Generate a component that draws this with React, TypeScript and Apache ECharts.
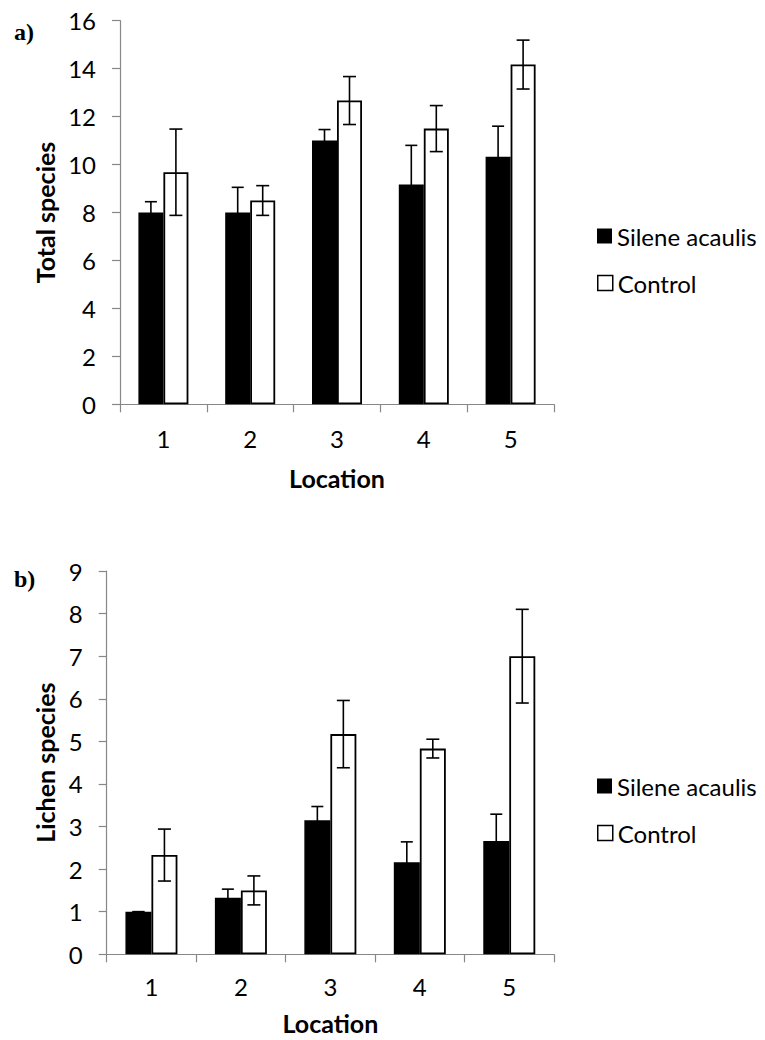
import React, { useEffect, useRef } from "react";
import * as echarts from "echarts";

const locations = ["1", "2", "3", "4", "5"];

// a) Total species
const totalSilene = [8.0, 8.0, 11.0, 9.17, 10.33];
const totalSileneErr = [0.45, 1.05, 0.46, 1.63, 1.27];
const totalControl = [9.68, 8.5, 12.67, 11.5, 14.17];
const totalControlErr = [1.8, 0.62, 1.0, 0.96, 1.02];

// b) Lichen species
const lichenSilene = [1.0, 1.33, 3.15, 2.16, 2.66];
const lichenSileneErr = [0.0, 0.2, 0.32, 0.48, 0.63];
const lichenControl = [2.33, 1.5, 5.17, 4.83, 7.0];
const lichenControlErr = [0.61, 0.34, 0.79, 0.22, 1.1];

const FONT = "Lato";
const AXIS_COLOR = "#878787";

function errorSeries(values: number[], errs: number[], gridIdx: number, offset: number, cap: number) {
  return {
    type: "custom",
    xAxisIndex: gridIdx,
    yAxisIndex: gridIdx,
    z: 10,
    silent: true,
    data: values.map((v, i) => [i, v, errs[i]]),
    renderItem: (params: any, api: any) => {
      const i = api.value(0);
      const v = api.value(1);
      const e = api.value(2);
      const hi = api.coord([i, v + e]);
      const lo = api.coord([i, v - e]);
      const x = hi[0] + offset;
      const style = { stroke: "#000", lineWidth: 1.6 };
      return {
        type: "group",
        children: [
          { type: "line", shape: { x1: x, y1: hi[1], x2: x, y2: lo[1] }, style },
          { type: "line", shape: { x1: x - cap / 2, y1: hi[1], x2: x + cap / 2, y2: hi[1] }, style },
          { type: "line", shape: { x1: x - cap / 2, y1: lo[1], x2: x + cap / 2, y2: lo[1] }, style },
        ],
      };
    },
  };
}

function xAxis(gridIndex: number, margin: number, nameGap: number) {
  return {
    type: "category",
    gridIndex,
    data: locations,
    name: "Location",
    nameLocation: "middle",
    nameGap,
    nameTextStyle: { fontFamily: FONT, fontSize: 25, fontWeight: "bold", color: "#000" },
    axisLine: { lineStyle: { color: AXIS_COLOR, width: 1.2 } },
    axisTick: { show: true, length: 8, lineStyle: { color: AXIS_COLOR, width: 1.2 } },
    axisLabel: { fontFamily: FONT, fontSize: 24, color: "#000", margin },
    splitLine: { show: false },
  };
}

function yAxis(gridIndex: number, name: string, max: number, nameGap: number) {
  return {
    type: "value",
    gridIndex,
    min: 0,
    max,
    interval: gridIndex === 0 ? 2 : 1,
    name,
    nameLocation: "middle",
    nameGap,
    nameTextStyle: { fontFamily: FONT, fontSize: 25, fontWeight: "bold", color: "#000" },
    axisLine: { show: true, lineStyle: { color: AXIS_COLOR, width: 1.2 } },
    axisTick: { show: true, length: 8, lineStyle: { color: AXIS_COLOR, width: 1.2 } },
    axisLabel: { fontFamily: FONT, fontSize: 24, color: "#000", margin: 24 },
    splitLine: { show: false },
  };
}

function legendItem(name: string, left: number, centerY: number, filled: boolean) {
  return {
    show: true,
    left,
    top: centerY - 13,
    orient: "vertical",
    icon: "rect",
    itemWidth: 15,
    itemHeight: 15,
    padding: 0,
    selectedMode: false,
    textStyle: { fontFamily: FONT, fontSize: 24, color: "#000", lineHeight: 26 },
    data: [
      {
        name,
        itemStyle: filled
          ? { color: "#000", borderColor: "#000", borderWidth: 0 }
          : { color: "#fff", borderColor: "#000", borderWidth: 1.5 },
      },
    ],
  };
}

export default function App() {
  const ref = useRef<HTMLDivElement>(null);
  useEffect(() => {
    if (!ref.current) return;
    const chart = echarts.init(ref.current, null, { renderer: "svg" });
    const barBlack = { color: "#000", borderColor: "#000", borderWidth: 1.5 };
    const barWhite = { color: "#fff", borderColor: "#000", borderWidth: 1.8 };
    const bwTop = 25;
    const bwBot = 26;
    chart.setOption({
      animation: false,
      backgroundColor: "#fff",
      grid: [
        { left: 120, top: 20.7, width: 434, height: 383.6 },
        { left: 106.7, top: 571, width: 447.3, height: 383.3 },
      ],
      xAxis: [xAxis(0, 22, 61), xAxis(1, 20, 56)],
      yAxis: [yAxis(0, "Total species", 16, 60), yAxis(1, "Lichen species", 9, 48)],
      legend: [
        legendItem("Silene acaulis", 597, 236, true),
        legendItem("Control", 597, 283, false),
        legendItem("Silene acaulis", 597, 786, true),
        legendItem("Control", 597, 833, false),
      ],
      graphic: [
        { type: "text", left: 14, top: 20, style: { text: "a)", font: "bold 24px 'Liberation Serif'", fill: "#000" } },
        { type: "text", left: 14, top: 567, style: { text: "b)", font: "bold 24px 'Liberation Serif'", fill: "#000" } },
      ],
      series: [
        { name: "Silene acaulis", type: "bar", xAxisIndex: 0, yAxisIndex: 0, barWidth: bwTop, barGap: "0%", data: totalSilene, itemStyle: barBlack },
        { name: "Control", type: "bar", xAxisIndex: 0, yAxisIndex: 0, barWidth: bwTop, barGap: "0%", data: totalControl, itemStyle: barWhite },
        { name: "Silene acaulis", type: "bar", xAxisIndex: 1, yAxisIndex: 1, barWidth: bwBot, barGap: "0%", data: lichenSilene, itemStyle: barBlack },
        { name: "Control", type: "bar", xAxisIndex: 1, yAxisIndex: 1, barWidth: bwBot, barGap: "0%", data: lichenControl, itemStyle: barWhite },
        errorSeries(totalSilene, totalSileneErr, 0, -bwTop / 2, 12),
        errorSeries(totalControl, totalControlErr, 0, bwTop / 2, 13),
        errorSeries(lichenSilene, lichenSileneErr, 1, -bwBot / 2, 12),
        errorSeries(lichenControl, lichenControlErr, 1, bwBot / 2, 13),
      ],
    });
    return () => chart.dispose();
  }, []);
  return (
    <div
      ref={ref}
      style={{ position: "absolute", left: 0, top: 0, width: 765, height: 1040 }}
    />
  );
}
